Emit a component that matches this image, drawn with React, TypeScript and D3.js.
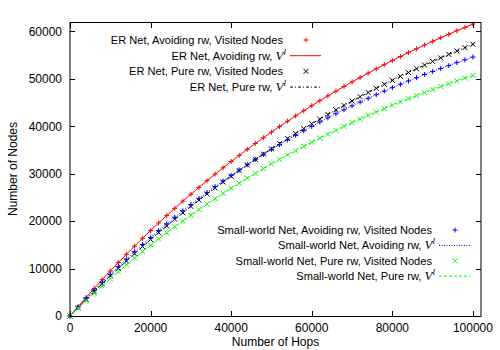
import React from 'react';
import * as d3 from 'd3';

const width = 500;
const height = 350;
const margin = { left: 70, right: 19, top: 22, bottom: 34 };

// hops, sampled every 2000
const hops = d3.range(0, 100001, 2000);

// ER net, avoiding rw (visited nodes and V^l coincide)
const erAvoid = [
  0, 1980, 3920, 5810, 7670, 9490, 11270, 13010, 14710, 16380,
  18020, 19620, 21180, 22710, 24220, 25680, 27120, 28530, 29910, 31260,
  32580, 33870, 35140, 36380, 37590, 38780, 39940, 41080, 42190, 43280,
  44350, 45400, 46420, 47420, 48400, 49360, 50300, 51220, 52120, 53000,
  53870, 54710, 55540, 56350, 57140, 57920, 58680, 59420, 60150, 60860,
  61560,
];

// ER net, pure rw
const erPure = [
  0, 1750, 3470, 5160, 6810, 8440, 10030, 11600, 13130, 14640,
  16120, 17570, 18990, 20390, 21760, 23110, 24430, 25730, 27000, 28250,
  29470, 30670, 31850, 33010, 34150, 35260, 36360, 37430, 38490, 39520,
  40540, 41530, 42510, 43470, 44410, 45330, 46240, 47130, 48000, 48860,
  49700, 50530, 51340, 52130, 52910, 53680, 54430, 55170, 55890, 56600,
  57300,
];

// Small-world net, avoiding rw
const swAvoid = [
  0, 1840, 3630, 5390, 7100, 8770, 10410, 12000, 13560, 15080,
  16570, 18020, 19440, 20820, 22180, 23500, 24790, 26050, 27280, 28480,
  29660, 30800, 31920, 33020, 34090, 35130, 36150, 37140, 38110, 39060,
  39990, 40900, 41780, 42650, 43490, 44310, 45120, 45900, 46670, 47420,
  48150, 48870, 49570, 50250, 50920, 51570, 52200, 52820, 53430, 54020,
  54600,
];

// Small-world net, pure rw
const swPure = [
  0, 1640, 3250, 4820, 6360, 7870, 9340, 10780, 12190, 13570,
  14930, 16250, 17540, 18810, 20050, 21260, 22450, 23610, 24750, 25860,
  26950, 28020, 29060, 30080, 31080, 32060, 33010, 33950, 34870, 35760,
  36640, 37500, 38340, 39160, 39970, 40760, 41530, 42280, 43020, 43740,
  44450, 45140, 45820, 46480, 47130, 47760, 48390, 48990, 49590, 50170,
  50740,
];

const xTicks = [0, 20000, 40000, 60000, 80000, 100000];
const yTicks = [0, 10000, 20000, 30000, 40000, 50000, 60000];

const xTitle = 'Number of Hops';
const yTitle = 'Number of Nodes';

const series = [
  { values: erAvoid, color: '#ff0000', marker: 'plus', dash: null, legend: 'top', name: 'ER Net, Avoiding rw' },
  { values: erPure, color: '#000000', marker: 'cross', dash: '3,2,1,2', legend: 'top', name: 'ER Net, Pure rw' },
  { values: swAvoid, color: '#0000ff', marker: 'plus', dash: '1,1.5', legend: 'bottom', name: 'Small-world Net, Avoiding rw' },
  { values: swPure, color: '#00ff00', marker: 'cross', dash: '3,2', legend: 'bottom', name: 'Small-world Net, Pure rw' },
];

const font = '"Liberation Sans", Arial, sans-serif';

const xScale = d3.scaleLinear().domain([0, 102000]).range([margin.left, width - margin.right]);
const yScale = d3.scaleLinear().domain([0, 62000]).range([height - margin.bottom, margin.top]);

const Marker = ({ type, x, y, color }) => {
  const s = 2.5;
  if (type === 'plus') {
    return <path d={`M${x - s},${y}H${x + s}M${x},${y - s}V${y + s}`} stroke={color} strokeWidth={1} />;
  }
  return <path d={`M${x - s},${y - s}L${x + s},${y + s}M${x - s},${y + s}L${x + s},${y - s}`} stroke={color} strokeWidth={1} />;
};

const VSup = () => (
  <tspan fontFamily='"Liberation Serif", "Times New Roman", serif' fontStyle="italic" fontSize={13}>
    V<tspan dy={-5} fontSize={9}>l</tspan>
  </tspan>
);

const LegendBlock = ({ items, textX, sampleX, y0, step }) => (
  <g fontFamily={font} fontSize={11.1} fill="#000">
    {items.map((s, i) => {
      const yp = y0 + step * (2 * i);
      const yl = y0 + step * (2 * i + 1);
      return (
        <g key={s.name}>
          <text x={textX} y={yp} dy="0.35em" textAnchor="end">{`${s.name}, Visited Nodes`}</text>
          <Marker type={s.marker} x={sampleX} y={yp} color={s.color} />
          <text x={textX + 3} y={yl} dy="0.35em" textAnchor="end">
            {`${s.name}, `}
            <VSup />
          </text>
          <line x1={sampleX - 16} x2={sampleX + 15} y1={yl} y2={yl}
            stroke={s.color} strokeWidth={1} strokeDasharray={s.dash || undefined} />
        </g>
      );
    })}
  </g>
);

export default function App() {
  const line = d3.line<number>()
    .x((_, i) => xScale(hops[i]))
    .y(d => yScale(d));

  const x0 = margin.left;
  const x1 = width - margin.right;
  const y0 = margin.top;
  const y1 = height - margin.bottom;

  return (
    <svg width={width} height={height} style={{ position: 'absolute', left: 0, top: 0, background: '#fff' }}>
      <rect width={width} height={height} fill="#fff" />

      {/* curves and points */}
      {series.map(s => (
        <g key={s.name}>
          <path d={line(s.values)} fill="none" stroke={s.color} strokeWidth={1}
            strokeDasharray={s.dash || undefined} />
          {s.values.map((v, i) => (
            <Marker key={i} type={s.marker} x={xScale(hops[i])} y={yScale(v)} color={s.color} />
          ))}
        </g>
      ))}

      {/* legends */}
      <LegendBlock items={series.filter(s => s.legend === 'top')} textX={283} sampleX={306} y0={40} step={15.7} />
      <LegendBlock items={series.filter(s => s.legend === 'bottom')} textX={432} sampleX={455} y0={230} step={15.4} />

      {/* frame */}
      <rect x={x0} y={y0 + 0.5} width={x1 - x0} height={y1 - y0} fill="none" stroke="#000" strokeWidth={1} />

      {/* ticks */}
      <g stroke="#000" strokeWidth={1}>
        {xTicks.map(t => (
          <g key={t}>
            <line x1={Math.round(xScale(t)) + 0.5} x2={Math.round(xScale(t)) + 0.5} y1={y1 + 0.5} y2={y1 - 5} />
            <line x1={Math.round(xScale(t)) + 0.5} x2={Math.round(xScale(t)) + 0.5} y1={y0 + 0.5} y2={y0 + 6} />
          </g>
        ))}
        {yTicks.map(t => (
          <g key={t}>
            <line x1={x0} x2={x0 + 5} y1={Math.round(yScale(t)) + 0.5} y2={Math.round(yScale(t)) + 0.5} />
            <line x1={x1} x2={x1 - 5} y1={Math.round(yScale(t)) + 0.5} y2={Math.round(yScale(t)) + 0.5} />
          </g>
        ))}
      </g>

      {/* tick labels */}
      <g fontFamily={font} fontSize={12} fill="#000">
        {xTicks.map(t => (
          <text key={t} x={xScale(t)} y={y1 + 12} dy="0.35em" textAnchor="middle">{t}</text>
        ))}
        {yTicks.map(t => (
          <text key={t} x={x0 - 8} y={yScale(t)} dy="0.35em" textAnchor="end">{t}</text>
        ))}
        <text x={(x0 + x1) / 2} y={342} dy="0.35em" textAnchor="middle">{xTitle}</text>
        <text transform={`translate(13, ${(y0 + y1) / 2}) rotate(-90)`} dy="0.35em" textAnchor="middle">{yTitle}</text>
      </g>
    </svg>
  );
}
